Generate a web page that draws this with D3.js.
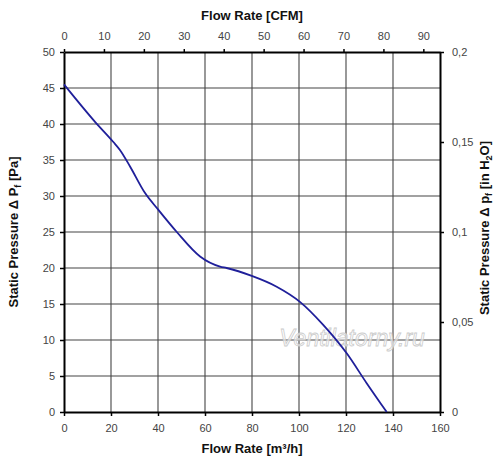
<!DOCTYPE html>
<html><head><meta charset="utf-8">
<script src="https://cdn.jsdelivr.net/npm/d3@7"></script>
<style>body{margin:0;background:#fff}svg{display:block}</style>
</head><body>
<svg id="c" width="500" height="473"></svg>
<script>
const flowM3h = [0, 13.2, 21, 23.8, 28.1, 34.5, 40.1, 48, 57.9, 66.4, 69.2, 79.9, 90.5, 100.4, 110.3, 120.3, 128.8, 137.3];
const pressurePa = [45.5, 40.3, 37.5, 36.4, 34.1, 30.4, 28.1, 25.0, 21.6, 20.2, 20.0, 18.9, 17.4, 15.3, 12.1, 8.15, 4.0, 0];
const bottomTicks = [0, 20, 40, 60, 80, 100, 120, 140, 160];
const topTicksCFM = [0, 10, 20, 30, 40, 50, 60, 70, 80, 90];
const leftTicks = [0, 5, 10, 15, 20, 25, 30, 35, 40, 45, 50];
const rightTicks = [0, 0.05, 0.1, 0.15, 0.2];
const CFM_TO_M3H = 1.699;

const svg = d3.select("#c");
const L = 64, R = 440, T = 52, B = 412;
const x = d3.scaleLinear().domain([0, 160]).range([L, R]);
const xTop = d3.scaleLinear().domain([0, 160 / CFM_TO_M3H]).range([L, R]);
const y = d3.scaleLinear().domain([0, 50]).range([B, T]);
const yR = d3.scaleLinear().domain([0, 0.2]).range([B, T]);
const fmtComma = d => d === 0 ? "0" : String(d).replace(".", ",");

// grid
const g = svg.append("g");
g.selectAll(".vg").data(bottomTicks.slice(1, -1)).join("line")
  .attr("x1", d => x(d)).attr("x2", d => x(d)).attr("y1", T).attr("y2", B)
  .attr("stroke", "#444").attr("stroke-width", 1.1);
g.selectAll(".hg").data(leftTicks.slice(1, -1)).join("line")
  .attr("x1", L).attr("x2", R).attr("y1", d => y(d)).attr("y2", d => y(d))
  .attr("stroke", "#444").attr("stroke-width", 1.1);

const font = "Arial, 'Liberation Sans', sans-serif";
function styleAxis(sel) {
  sel.selectAll("text").attr("font-family", font).attr("font-size", 11).attr("fill", "#444");
  sel.selectAll(".tick line").attr("stroke", "#000").attr("stroke-width", 1.5);
  sel.select(".domain").attr("stroke", "#000").attr("stroke-width", 2.2);
}
// axes
svg.append("g").attr("transform", `translate(0,${B})`)
  .call(d3.axisBottom(x).tickValues(bottomTicks).tickSize(4).tickSizeOuter(0).tickPadding(8))
  .call(styleAxis);
svg.append("g").attr("transform", `translate(0,${T})`)
  .call(d3.axisTop(xTop).tickValues(topTicksCFM).tickSize(3).tickSizeOuter(0).tickPadding(9))
  .call(styleAxis);
svg.append("g").attr("transform", `translate(${L},0)`)
  .call(d3.axisLeft(y).tickValues(leftTicks).tickSize(4).tickSizeOuter(0).tickPadding(5))
  .call(styleAxis);
svg.append("g").attr("transform", `translate(${R},0)`)
  .call(d3.axisRight(yR).tickValues(rightTicks).tickSize(4).tickSizeOuter(0).tickPadding(8).tickFormat(fmtComma))
  .call(styleAxis);
svg.selectAll(".domain").attr("stroke-width", 2);

// watermark
svg.append("text").attr("x", 352).attr("y", 346).attr("text-anchor", "middle")
  .attr("font-family", font).attr("font-style", "italic").attr("font-size", 23)
  .attr("fill", "#fff").attr("fill-opacity", 0.6).attr("stroke", "#ccc").attr("stroke-width", 0.8)
  .text("Ventilatorny.ru");

// curve
const pts = flowM3h.map((f, i) => [f, pressurePa[i]]);
svg.append("path").datum(pts)
  .attr("d", d3.line().x(d => x(d[0])).y(d => y(d[1])).curve(d3.curveMonotoneX))
  .attr("fill", "none").attr("stroke", "#1f1f9a").attr("stroke-width", 1.8);

// titles
const tf = (sel) => sel.attr("font-family", font).attr("font-weight", "bold").attr("font-size", 13).attr("fill", "#111");
svg.append("text").attr("x", 252).attr("y", 20).attr("text-anchor", "middle").call(tf).text("Flow Rate [CFM]");
const bt = svg.append("text").attr("x", 252).attr("y", 453).attr("text-anchor", "middle").call(tf);
bt.text("Flow Rate [m³/h]");
const lt = svg.append("text").attr("transform", "translate(18,232) rotate(-90)").attr("text-anchor", "middle").call(tf);
lt.append("tspan").text("Static Pressure Δ P");
lt.append("tspan").attr("font-size", 9).attr("dy", 3).text("f");
lt.append("tspan").attr("dy", -3).text(" [Pa]");
const rt = svg.append("text").attr("transform", "translate(489,228) rotate(-90)").attr("text-anchor", "middle").call(tf);
rt.append("tspan").text("Static Pressure Δ p");
rt.append("tspan").attr("font-size", 9).attr("dy", 3).text("f");
rt.append("tspan").attr("dy", -3).text(" [in H");
rt.append("tspan").attr("font-size", 9).attr("dy", 3).text("2");
rt.append("tspan").attr("dy", -3).text("O]");
</script>
</body></html>
